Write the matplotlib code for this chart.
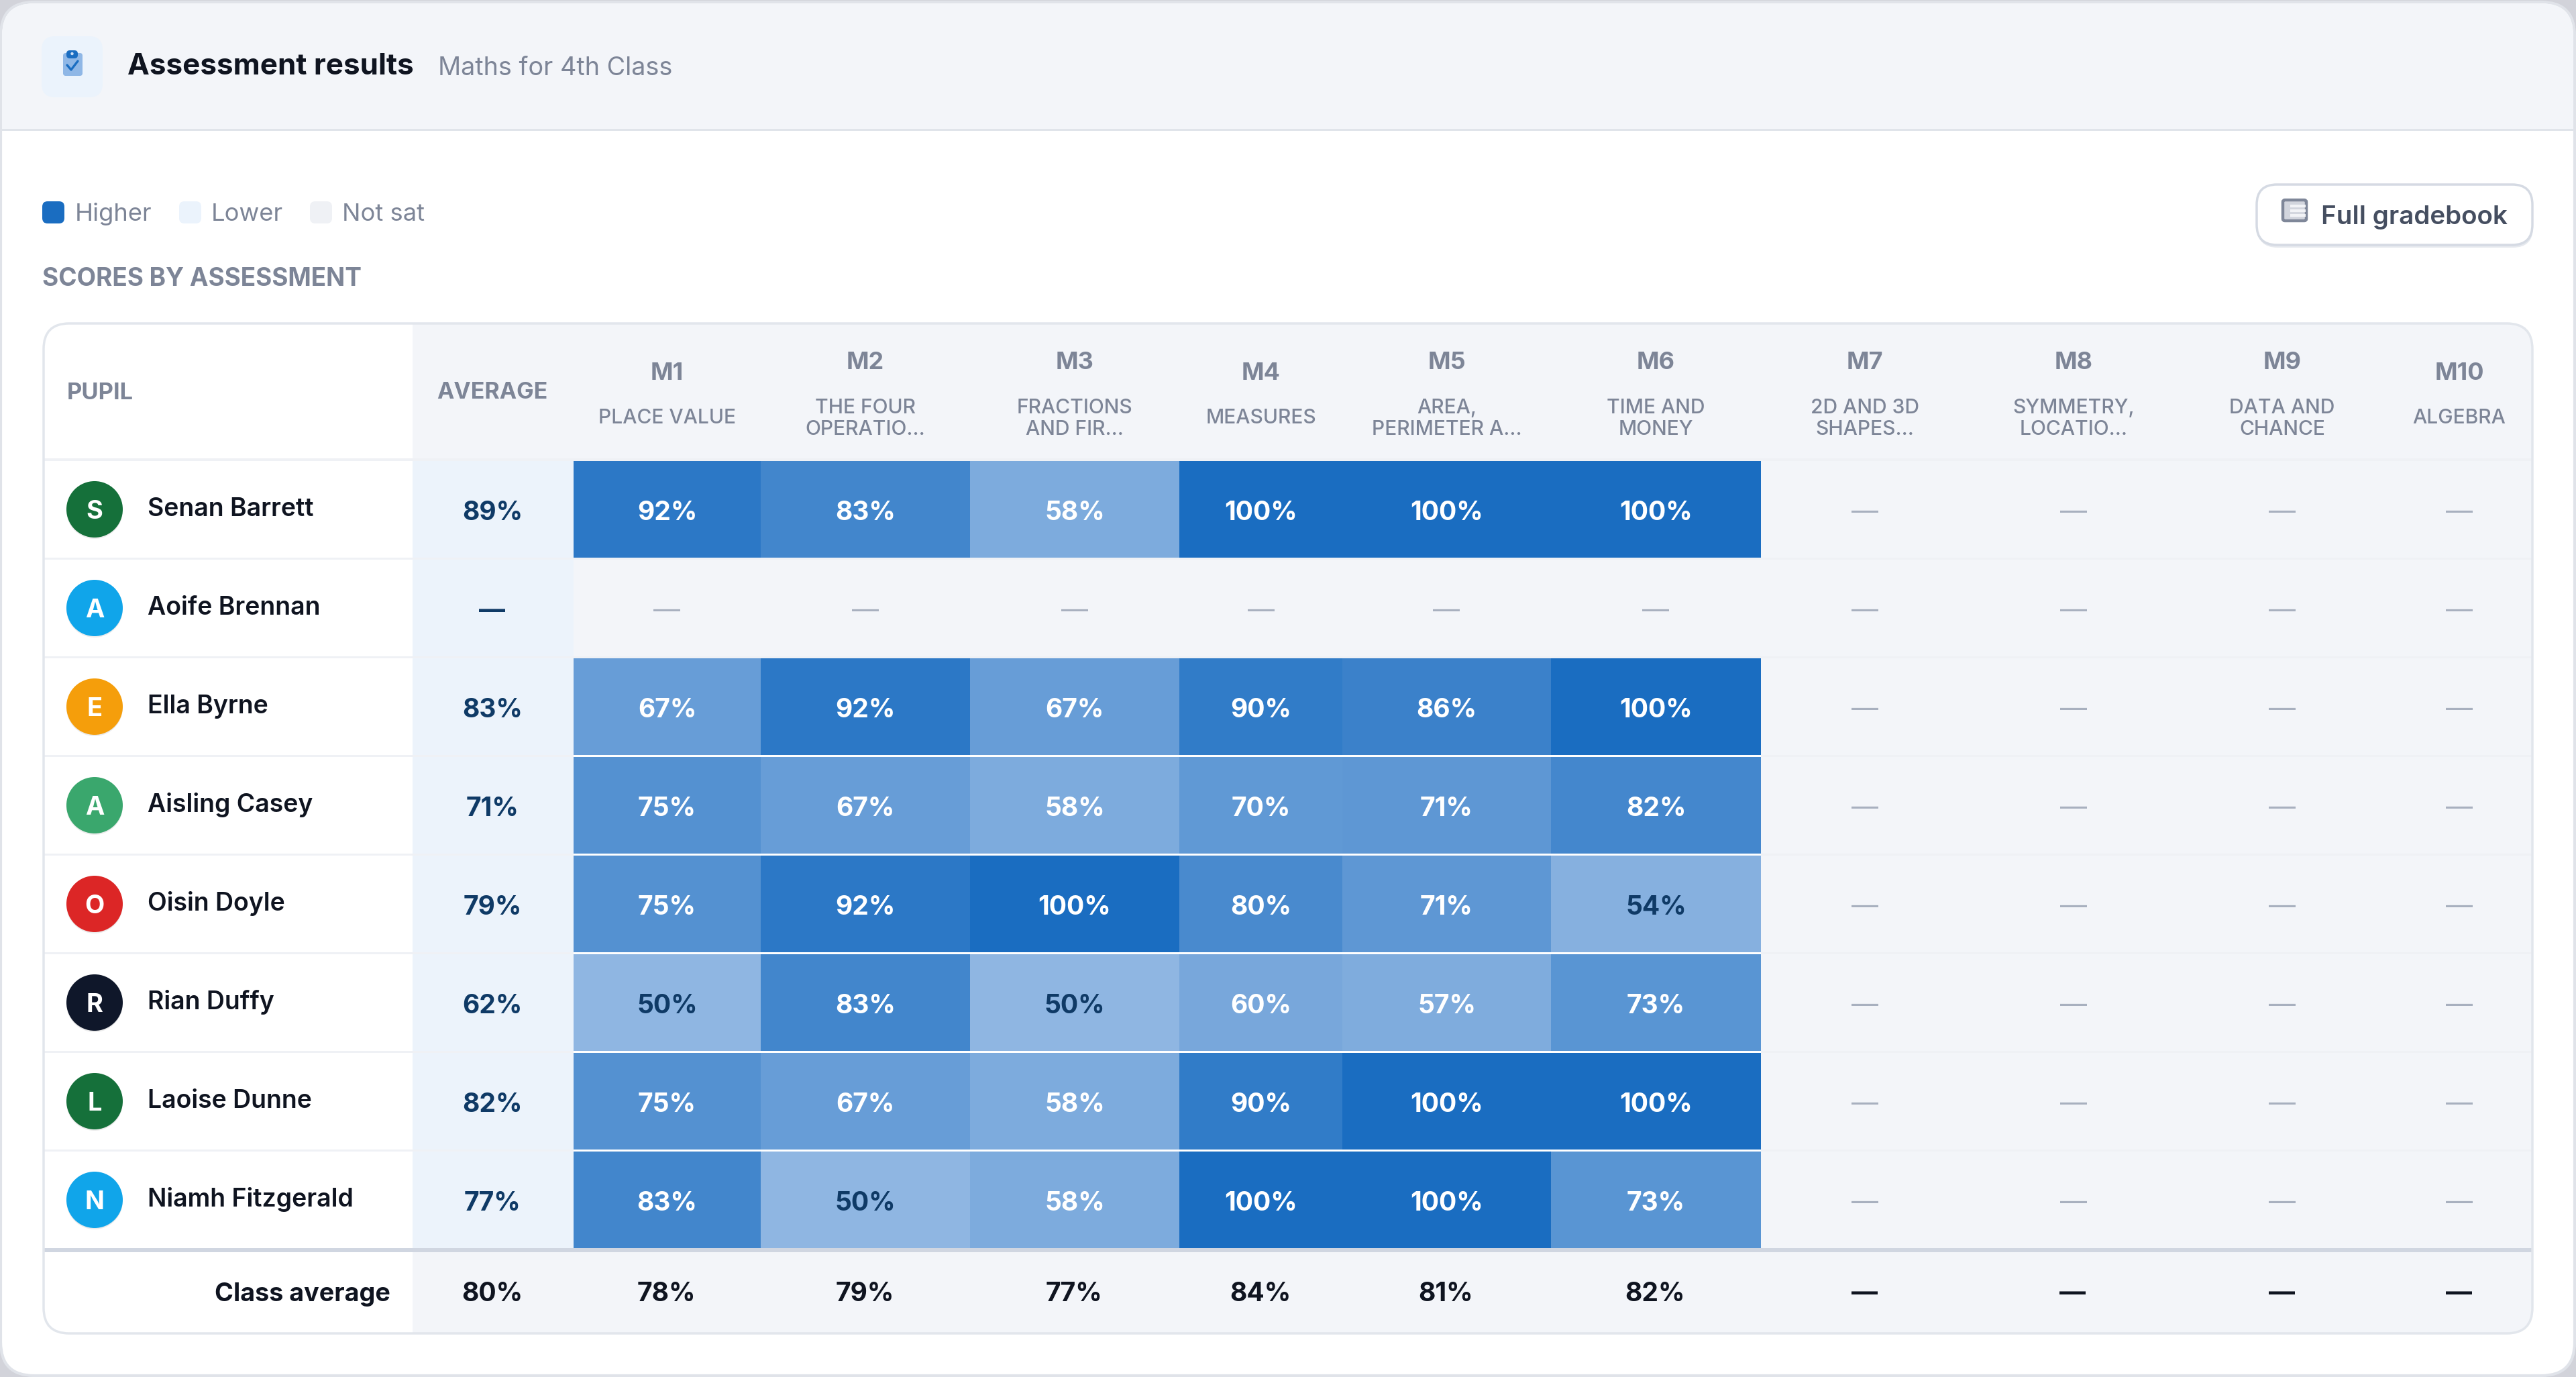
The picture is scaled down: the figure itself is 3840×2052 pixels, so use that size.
import numpy as np
import matplotlib
matplotlib.use("Agg")
import matplotlib.pyplot as plt
from matplotlib.patches import FancyBboxPatch, Rectangle, Circle
from matplotlib.colors import LinearSegmentedColormap, Normalize

# ---------- data ----------
nan = float("nan")
pupils = ["Senan Barrett", "Aoife Brennan", "Ella Byrne", "Aisling Casey",
          "Oisin Doyle", "Rian Duffy", "Laoise Dunne", "Niamh Fitzgerald"]
initials = ["S", "A", "E", "A", "O", "R", "L", "N"]
avatar_colors = ["#15703a", "#10a5ea", "#f59e0b", "#3aa76d", "#dc2626", "#0f172a", "#15703a", "#10a5ea"]
averages = [89, nan, 83, 71, 79, 62, 82, 77]
modules = ["M1", "M2", "M3", "M4", "M5", "M6", "M7", "M8", "M9", "M10"]
module_names = ["PLACE VALUE", "THE FOUR\nOPERATIO...", "FRACTIONS\nAND FIR...", "MEASURES",
                "AREA,\nPERIMETER A...", "TIME AND\nMONEY", "2D AND 3D\nSHAPES...",
                "SYMMETRY,\nLOCATIO...", "DATA AND\nCHANCE", "ALGEBRA"]
m1 = [92, nan, 67, 75, 75, 50, 75, 83]
m2 = [83, nan, 92, 67, 92, 83, 67, 50]
m3 = [58, nan, 67, 58, 100, 50, 58, 58]
m4 = [100, nan, 90, 70, 80, 60, 90, 100]
m5 = [100, nan, 86, 71, 71, 57, 100, 100]
m6 = [100, nan, 100, 82, 54, 73, 100, 73]
m7 = [nan] * 8
m8 = [nan] * 8
m9 = [nan] * 8
m10 = [nan] * 8
class_avg = [80, 78, 79, 77, 84, 81, 82, nan, nan, nan, nan]
legend_labels = ["Higher", "Lower", "Not sat"]
legend_colors = ["#1a6dc1", "#ebf3fc", "#eff1f5"]

scores = np.array([m1, m2, m3, m4, m5, m6, m7, m8, m9, m10], dtype=float).T

# ---------- layout (pixels) ----------
W, H = 3840, 2052
col_edges = [615, 855, 1134, 1446, 1758, 2001, 2312, 2625, 2935, 3247, 3557, 3775]
row_top0, row_pitch, row_h = 687, 147, 144
tbl_l, tbl_t, tbl_r, tbl_b = 65, 482, 3775, 1987

INK = "#0f1420"
GREY = "#7d8597"
BG = "#f3f5f9"
LINE = "#eff1f5"

plt.rcParams["font.family"] = ["Inter", "DejaVu Sans"]
fig = plt.figure(figsize=(W / 100, H / 100), dpi=100, facecolor="#d2d3da")
ax = fig.add_axes([0, 0, 1, 1])
ax.set_axis_off()


def txt(x, yc, s, px, color=INK, weight=400, ha="center", **kw):
    """Text whose capitals are centred on yc; px is the font size in pixels."""
    return ax.text(x, yc + 0.364 * px, s, fontsize=px * 0.72, color=color, fontweight=weight,
                   ha=ha, va="baseline", **kw)


def rbox(x0, y0, x1, y1, r, fc, ec="none", lw=0, z=1, **kw):
    p = FancyBboxPatch((x0 + r, y0 + r), x1 - x0 - 2 * r, y1 - y0 - 2 * r,
                       boxstyle=f"round,pad={r},rounding_size={r}", fc=fc, ec=ec, lw=lw, zorder=z, **kw)
    ax.add_patch(p)
    return p


def pct(v):
    return "—" if np.isnan(v) else f"{int(v)}%"


# ---------- card ----------
rbox(1, 3, 3838, 2050, 50, "#ffffff", ec="#e0e3e9", lw=3, z=1)
card_clip = rbox(3, 5, 3836, 2048, 48, "none", z=1)
hdr = Rectangle((0, 0), W, 193, fc=BG, ec="none", zorder=1.1)
ax.add_patch(hdr)
hdr.set_clip_path(card_clip)
ax.add_patch(Rectangle((3, 192), W - 6, 3, fc="#e0e4ea", ec="none", zorder=1.2))

# header icon
rbox(62, 54, 153, 145, 20, "#ebf3fc", z=2)
rbox(94, 79, 123, 113, 4, "#8fb7e6", z=3)
rbox(99, 75, 116, 87, 5, "#1a6dc1", z=3.1)
ax.add_patch(Circle((107.5, 80), 2.2, fc="#cfe0f5", ec="none", zorder=3.2))
ax.plot([100, 106, 116], [97, 104, 91], color="#1a6dc1", lw=2.4, zorder=3.3, solid_capstyle="round")

txt(190, 95, "Assessment results", 44, weight=700, ha="left")
txt(653, 98, "Maths for 4th Class", 37.8, color=GREY, ha="left")

# legend
leg_x = [63, 267, 462]
leg_tx = [112, 315, 510]
for lx, tx, lab, col in zip(leg_x, leg_tx, legend_labels, legend_colors):
    rbox(lx, 300, lx + 33, 333, 8, col, z=2)
    txt(tx, 316, lab, 36.4, color=GREY, ha="left")

txt(63, 413, "SCORES BY ASSESSMENT", 37, color=GREY, weight=700, ha="left")

# button
rbox(3365, 279, 3776, 369, 30, "#e6e9ee", z=1.5)
rbox(3364, 275, 3775, 365, 30, "#ffffff", ec="#d5dae3", lw=2.5, z=2)
rbox(3403, 298, 3438, 329, 3, "#d2d5dd", ec="#7f8799", lw=3.2, z=3)
for yy in (307, 314, 321):
    ax.plot([3414, 3437], [yy, yy], color="#f2f3f6", lw=3, zorder=3.1, solid_capstyle="butt")
txt(3460, 320, "Full gradebook", 38.6, color="#454e60", weight=600, ha="left")

# ---------- table ----------
tbl_clip = rbox(tbl_l, tbl_t, tbl_r, tbl_b, 38, "#ffffff", z=1.5)


def clipped(art):
    art.set_clip_path(tbl_clip)
    return art


row_tops = [row_top0 + row_pitch * k for k in range(len(pupils))]
row_bot = row_tops[-1] + row_h
foot_t, foot_b = 1866, tbl_b

# backgrounds
ax.add_patch(clipped(Rectangle((col_edges[0], tbl_t), tbl_r - col_edges[0], row_top0 - tbl_t, fc=BG, ec="none", zorder=2)))
ax.add_patch(clipped(Rectangle((col_edges[1], row_top0), tbl_r - col_edges[1], row_bot - row_top0, fc=BG, ec="none", zorder=2)))
ax.add_patch(Rectangle((col_edges[0], row_top0), col_edges[1] - col_edges[0], row_bot - row_top0, fc="#ecf3fb", ec="none", zorder=2))
ax.add_patch(clipped(Rectangle((col_edges[0], foot_t), tbl_r - col_edges[0], foot_b - foot_t, fc=BG, ec="none", zorder=2)))

# row separators
for yy in [row_top0 - 4] + [t + row_h for t in row_tops[:-1]]:
    ax.add_patch(Rectangle((tbl_l, yy), tbl_r - tbl_l, 4 if yy < row_top0 else 3, fc=LINE, ec="none", zorder=2.2))
ax.add_patch(Rectangle((tbl_l, row_bot), tbl_r - tbl_l, foot_t - row_bot, fc="#d0d6e1", ec="none", zorder=2.3))

# heat cells
cmap = LinearSegmentedColormap.from_list("score", ["#8fb6e2", "#1a6dc1"])
norm = Normalize(50, 100)
for k, top in enumerate(row_tops):
    ax.pcolormesh(col_edges[1:], [top, top + row_h], np.ma.masked_invalid(scores[k:k + 1]),
                  cmap=cmap, norm=norm, zorder=2.5, linewidth=0, antialiased=False)
    if k + 1 < len(row_tops):
        for c in range(scores.shape[1]):
            if not np.isnan(scores[k, c]) and not np.isnan(scores[k + 1, c]):
                ax.add_patch(Rectangle((col_edges[c + 1], top + row_h), col_edges[c + 2] - col_edges[c + 1], 3,
                                       fc="#ffffff", ec="none", zorder=2.6))

# table border
rbox(tbl_l, tbl_t, tbl_r, tbl_b, 38, "none", ec="#e2e6ec", lw=2.5, z=4)

# column headings
centers = [(a + b) / 2 for a, b in zip(col_edges[:-1], col_edges[1:])]
txt(100, 582, "PUPIL", 34.5, color=GREY, weight=700, ha="left")
txt(centers[0] - 1, 582, "AVERAGE", 34, color=GREY, weight=700)
for c, mod, name in zip(centers[1:], modules, module_names):
    lines = name.split("\n")
    two = len(lines) == 2
    txt(c, 537 if two else 553, mod, 36, color=GREY, weight=700)
    if two:
        txt(c, 605, lines[0], 30, color=GREY, weight=500)
        txt(c, 637, lines[1], 30, color=GREY, weight=500)
    else:
        txt(c, 620, lines[0], 30, color=GREY, weight=500)

# rows
for k, top in enumerate(row_tops):
    yc = top + row_h / 2
    ax.add_patch(Circle((141, yc + 2), 42, fc="#000000", alpha=0.08, ec="none", zorder=2.9))
    ax.add_patch(Circle((141, yc), 42, fc=avatar_colors[k], ec="none", zorder=3))
    txt(141, yc, initials[k], 38, color="#ffffff", weight=700, zorder=3.1)
    txt(220, yc - 4, pupils[k], 37.4, weight=600, ha="left", zorder=3)
    txt(centers[0] - 1, yc + 1.5, pct(averages[k]), 39, color="#0f3a66", weight=700, zorder=3)
    for c, v in zip(centers[1:], scores[k]):
        if np.isnan(v):
            txt(c, yc + 1, "—", 40, color="#a8b0bf", weight=400, zorder=3)
        else:
            txt(c, yc + 1.5, pct(v), 39, color="#0f3a66" if v < 55 else "#ffffff", weight=700, zorder=3)

# footer
txt(582, 1925, "Class average", 37.7, weight=700, ha="right", zorder=3)
for c, v in zip(centers, class_avg):
    txt(c - 1, 1925, pct(v), 39, weight=700, zorder=3)

ax.set_xlim(0, W)
ax.set_ylim(H, 0)
fig.savefig("out.png", dpi=100, facecolor=fig.get_facecolor())
